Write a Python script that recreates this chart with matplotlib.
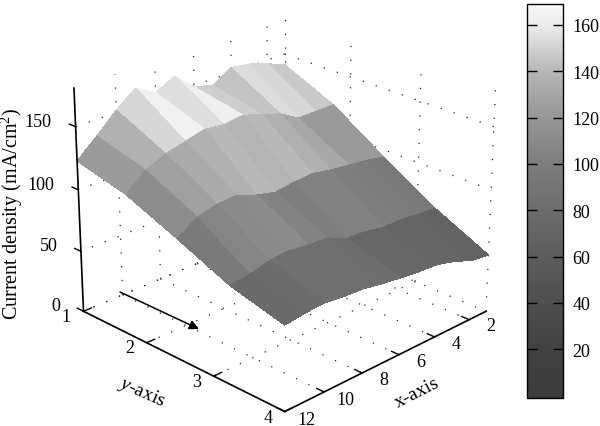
import matplotlib
matplotlib.use('Agg')
import matplotlib.pyplot as plt
import numpy as np
from matplotlib.colors import LinearSegmentedColormap, Normalize
from matplotlib.cm import ScalarMappable
from mpl_toolkits.mplot3d import proj3d

plt.rcParams['font.family'] = ['Liberation Serif', 'DejaVu Serif']
plt.rcParams['mathtext.fontset'] = 'custom'
plt.rcParams['mathtext.rm'] = 'Liberation Serif'
plt.rcParams['mathtext.it'] = 'Liberation Serif:italic'

# valores
x_vals = [12, 11, 10, 9, 8, 7, 6, 5, 4, 3, 2, 1]
y_vals = [1, 1.75, 2.5, 3.25, 4]
fila_1 = [123, 137, 152, 164, 155, 163, 149, 145, 154, 152, 147, 141]
fila_2 = [113, 126, 133, 137, 141, 139, 141, 136, 131, 122, 122, 122]
fila_3 = [96, 106, 110, 111, 105, 101, 103, 104, 101, 99, 97, 94]
fila_4 = [78, 80, 84, 85, 83, 82, 75, 74, 71, 71, 69, 68]
fila_5 = [67, 69, 70, 68, 67, 64, 62, 60, 59, 55, 49, 47]

x_ticks = [2, 4, 6, 8, 10, 12]
y_ticks = [1, 2, 3, 4]
z_ticks = [0, 50, 100, 150]
cbar_ticks = [20, 40, 60, 80, 100, 120, 140, 160]
z_top = 180

Z = np.array([fila_1, fila_2, fila_3, fila_4, fila_5], dtype=float)
X, Y = np.meshgrid(x_vals, y_vals)

# escala de grises de la barra, no es lineal
cbar_vals = [-1, 20, 40, 60, 80, 100, 120, 140, 160, 169]
cbar_gris = [60, 65, 78, 92, 108, 125, 150, 182, 235, 248]
norm = Normalize(-1, 169)
grises = LinearSegmentedColormap.from_list(
    'grises', [(norm(v), (g / 255, g / 255, g / 255)) for v, g in zip(cbar_vals, cbar_gris)])

fig = plt.figure(figsize=(6, 4.27), dpi=100)
s = 500
ax = fig.add_axes([(278 - s / 2) / 600, (427 - 210 - s / 2) / 427, s / 600, s / 427], projection='3d')
ax.set_axis_off()
ax.patch.set_alpha(0)
ax.computed_zorder = False
ax.view_init(elev=24.2, azim=45)
ax.set_proj_type('persp', focal_length=0.8)
ax.set_box_aspect((1, 1, 0.84), zoom=0.93)
ax.set_xlim(1, 12)
ax.set_ylim(1, 4)
ax.set_zlim(0, z_top)


def etiqueta(x, y, z, texto, ha='center'):
    # texto 2D colocado en la posicion proyectada del punto 3D
    px, py, _ = proj3d.proj_transform(x, y, z, ax.get_proj())
    fig.text(px, py, texto, transform=ax.transData, fontsize=13, ha=ha, va='center')


# rejilla punteada
punteado = dict(color='#222222', lw=0.9, ls=(0, (1, 10)), zorder=1)
for xt in x_ticks:
    ax.plot([xt, xt], [1, 4], [0, 0], **punteado)
    ax.plot([xt, xt], [1, 1], [0, z_top], **punteado)
for yt in y_ticks:
    ax.plot([1, 12], [yt, yt], [0, 0], **punteado)
    ax.plot([1, 1], [yt, yt], [0, z_top], **punteado)
for zt in z_ticks:
    ax.plot([1, 12], [1, 1], [zt, zt], **punteado)
    ax.plot([1, 1], [1, 4], [zt, zt], **punteado)

# superficie
colores = grises(norm(Z))
ax.plot_surface(X, Y, Z, facecolors=colores, rstride=1, cstride=1, shade=False,
                linewidth=0, antialiased=False, zorder=2)

# ejes
negro = dict(color='black', lw=1.2, zorder=3)
ax.plot([12, 12], [1, 4], [0, 0], **negro)
ax.plot([1, 12], [4, 4], [0, 0], **negro)
ax.plot([12, 12], [1, 1], [0, z_top], **negro)

tick = dict(color='black', lw=1.0, zorder=3)
for xt in x_ticks:
    ax.plot([xt, xt], [4, 3.9], [0, 0], **tick)
    etiqueta(xt, 4.29, 2.5, str(xt))
for yt in y_ticks:
    ax.plot([12, 11.6], [yt, yt], [0, 0], **tick)
    etiqueta(12.85, yt, 2, str(yt))
for zt in z_ticks:
    ax.plot([12, 12], [1, 0.9], [zt, zt], **tick)
    etiqueta(12.3, 0.72, zt, str(zt), ha='right')

fig.text(12 / 600, 1 - 214 / 427, 'Current density (mA/cm$^{2}$)', rotation=90, fontsize=14.5,
         ha='center', va='center')
fig.text(142 / 600, 1 - 392 / 427, '$\\mathit{y}$-axis', rotation=-24, fontsize=14, ha='center', va='center')
fig.text(417 / 600, 1 - 393 / 427, 'x-axis', rotation=27, fontsize=14, ha='center', va='center')

# flecha
fig.add_artist(matplotlib.patches.FancyArrowPatch((120 / 600, 1 - 293 / 427), (199 / 600, 1 - 330 / 427),
               transform=fig.transFigure, arrowstyle='-|>', mutation_scale=14, color='black', lw=1.1,
               shrinkA=0, shrinkB=0))

# barra de color
cax = fig.add_axes([527 / 600, 1 - 399 / 427, 36 / 600, 394 / 427])
cb = fig.colorbar(ScalarMappable(norm=norm, cmap=grises), cax=cax)
cb.set_ticks(cbar_ticks)
cax.tick_params(direction='in', left=True, right=True, length=7, width=1, labelsize=13, pad=7)
cb.outline.set_linewidth(1.0)

fig.savefig('out.png', dpi=100)
